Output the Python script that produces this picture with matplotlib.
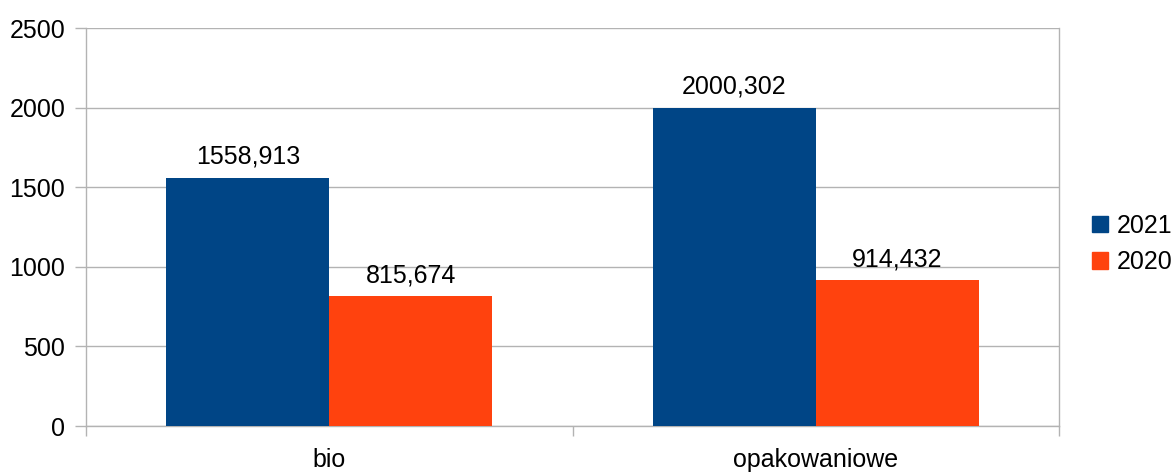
import matplotlib
matplotlib.use("Agg")
import matplotlib.pyplot as plt
import numpy as np
from matplotlib.patches import Patch

categories = ["bio", "opakowaniowe"]
series_names = ["2021", "2020"]
values_2021 = [1558.913, 2000.302]
values_2020 = [815.674, 914.432]
yticks = [0, 500, 1000, 1500, 2000, 2500]

colors = ["#004586", "#ff420e"]
grid_c = "#b3b3b3"
FS = 18

plt.rcParams['font.family'] = ['Liberation Sans', 'DejaVu Sans']

W, H = 1175, 472
fig = plt.figure(figsize=(W / 100, H / 100), dpi=100)
ax = fig.add_axes([86 / W, (H - 426) / H, (1059 - 86) / W, (426 - 28) / H])

x = np.arange(len(categories))
bw = 0.335
series = [values_2021, values_2020]
for i, (vals, name) in enumerate(zip(series, series_names)):
    offs = (i - 0.5) * bw
    bars = ax.bar(x + offs, vals, width=bw, color=colors[i], label=name, zorder=3)
    for b, v in zip(bars, vals):
        txt = f"{v:.3f}".replace(".", ",")
        ax.annotate(txt, (b.get_x() + b.get_width() / 2, v), xytext=(0, 10),
                    textcoords="offset points", ha="center", va="baseline",
                    fontsize=FS, color="black")

ax.set_xlim(-0.5, len(categories) - 0.5)
ax.set_ylim(0, 2500)
ax.set_yticks(yticks)
ax.set_yticklabels([str(t) for t in yticks])
ax.yaxis.grid(True, color=grid_c, linewidth=1, zorder=0)
ax.set_axisbelow(True)

ax.set_xticks(np.arange(-0.5, len(categories), 1.0))
ax.set_xticklabels([])
ax.set_xticks(x, minor=True)
ax.set_xticklabels(categories, minor=True)
ax.tick_params(axis="x", which="major", length=7.5, width=1, color=grid_c)
ax.tick_params(axis="x", which="minor", length=0, pad=16, labelsize=FS)
ax.tick_params(axis="y", length=8, width=1, color=grid_c, labelsize=FS, pad=7)

for s in ["left", "bottom", "right", "top"]:
    ax.spines[s].set_color(grid_c)
    ax.spines[s].set_linewidth(1)
ax.spines["top"].set_visible(False)

handles = [Patch(facecolor=c, edgecolor=c, label=n) for c, n in zip(colors, series_names)]
fig.legend(handles=handles, loc="center left", bbox_to_anchor=(1092 / W, 1 - 244 / H),
           frameon=False, fontsize=FS, handlelength=0.64, handleheight=0.64,
           handletextpad=0.35, labelspacing=0.5, borderaxespad=0, borderpad=0)

fig.savefig("out.png", dpi=100, facecolor="white")
